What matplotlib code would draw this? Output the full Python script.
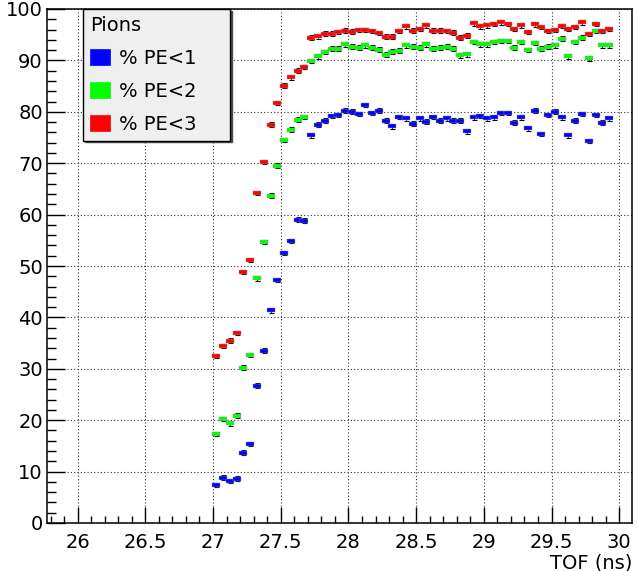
import numpy as np
import matplotlib
matplotlib.use('Agg')
import matplotlib.pyplot as plt
from matplotlib.patches import Patch
from matplotlib.ticker import MultipleLocator

# TOF bin centres (0.05 ns bins from 27.0 to 29.95 ns)
tof = np.linspace(27.025, 29.925, 59)

# fraction of pions (in %) below each photo-electron threshold
pe_lt1 = [7.4, 8.8, 8.2, 8.6, 13.7, 15.4, 26.7, 33.5, 41.4, 47.3,
          52.5, 54.9, 59.0, 58.8, 75.4, 77.5, 78.3, 79.2, 79.4, 80.2,
          80.0, 79.6, 81.3, 79.8, 80.2, 78.3, 77.2, 79.0, 78.7, 77.7,
          78.7, 78.1, 79.0, 78.3, 78.7, 78.3, 78.3, 76.2, 78.9, 79.2,
          78.7, 78.9, 79.8, 79.8, 77.9, 78.9, 76.8, 80.2, 75.7, 79.4,
          80.0, 78.9, 75.4, 78.3, 79.6, 74.3, 79.4, 77.9, 78.7]
pe_lt2 = [17.3, 20.2, 19.4, 20.9, 30.2, 32.7, 47.6, 54.7, 63.7, 69.5,
          74.5, 76.5, 78.5, 79.0, 89.9, 90.8, 91.6, 92.3, 92.3, 93.1,
          92.7, 92.5, 92.9, 92.5, 92.1, 91.1, 91.7, 91.9, 92.9, 92.7,
          92.5, 93.1, 92.3, 92.5, 92.7, 92.3, 91.0, 91.2, 93.6, 93.1,
          93.1, 93.6, 93.8, 93.8, 92.5, 93.6, 92.0, 93.4, 92.3, 92.7,
          92.9, 94.2, 90.8, 93.6, 94.4, 90.4, 95.7, 92.9, 92.9]
pe_lt3 = [32.5, 34.4, 35.5, 37.0, 48.8, 51.2, 64.2, 70.2, 77.5, 81.7,
          85.1, 86.7, 88.0, 88.7, 94.4, 94.7, 95.2, 95.2, 95.5, 95.8,
          95.6, 95.9, 95.9, 95.7, 95.3, 94.6, 94.6, 95.7, 96.6, 95.8,
          96.1, 96.8, 95.8, 95.8, 95.7, 95.4, 94.4, 94.8, 97.2, 96.6,
          96.8, 97.1, 97.4, 97.1, 96.1, 96.8, 95.5, 97.0, 96.5, 95.7,
          95.9, 96.7, 96.1, 96.5, 97.4, 95.1, 97.1, 95.7, 96.1]
stat_err = 0.45

labels = ['% PE<1', '% PE<2', '% PE<3']
colors = ['#0000ff', '#00ff00', '#ff0000']

if __name__ == '__main__':

    fig = plt.figure(figsize=(6.38, 5.71), dpi=100)
    ax = fig.add_axes([47/638, 48/571, 585/638, 514/571])

    # flat rectangle marker, like the ROOT box markers
    box = [(-1, -0.6), (1, -0.6), (1, 0.6), (-1, 0.6), (-1, -0.6)]

    for vals, col in zip([pe_lt1, pe_lt2, pe_lt3], colors):
        ax.errorbar(tof, vals, yerr=stat_err, fmt='none', ecolor='black',
                    elinewidth=0.6, capsize=1.8, capthick=0.8, zorder=3)
        ax.plot(tof, vals, linestyle='none', marker=box, ms=5.2,
                mfc=col, mec='0.6', mew=0.3, zorder=4)

    ax.set_xlim(25.774, 30.094)
    ax.set_ylim(0, 100)
    ax.xaxis.set_major_locator(MultipleLocator(0.5))
    ax.xaxis.set_minor_locator(MultipleLocator(0.1))
    ax.yaxis.set_major_locator(MultipleLocator(10))
    ax.yaxis.set_minor_locator(MultipleLocator(2))
    ax.xaxis.set_major_formatter(lambda v, p: '%g' % v)

    ax.tick_params(axis='x', which='major', direction='in', length=11.2,
                   width=1, labelsize=14, pad=7)
    ax.tick_params(axis='x', which='minor', direction='in', length=5.4,
                   width=1)
    ax.tick_params(axis='y', which='major', direction='in', length=12.6,
                   width=1, labelsize=14, pad=3)
    ax.tick_params(axis='y', which='minor', direction='in', length=6.5,
                   width=1)
    for sp in ax.spines.values():
        sp.set_linewidth(1.1)

    ax.grid(True, which='major', color='0.2', linestyle=(0, (1, 2)),
            linewidth=0.8, zorder=0)
    ax.set_axisbelow(True)

    ax.set_xlabel('TOF (ns)', loc='right', fontsize=14, labelpad=1)

    handles = [Patch(facecolor=c, edgecolor=c, linewidth=0.5) for c in colors]
    leg = ax.legend(handles, labels, title='Pions', title_fontsize=14,
                    fontsize=14, loc='upper left', mode='expand',
                    bbox_to_anchor=(0.0615, 0.749, 0.2515, 0.251),
                    borderaxespad=0, borderpad=0.35, alignment='left',
                    handlelength=1.05, handleheight=0.9, handletextpad=0.45,
                    labelspacing=0.72, fancybox=False, framealpha=1,
                    facecolor='#efefef', edgecolor='black',
                    shadow={'color': '0.3', 'alpha': 1, 'ox': 1.2, 'oy': -1.2})
    leg.get_frame().set_linewidth(1)
    leg.set_zorder(5)

    fig.savefig('out.png', dpi=100)
